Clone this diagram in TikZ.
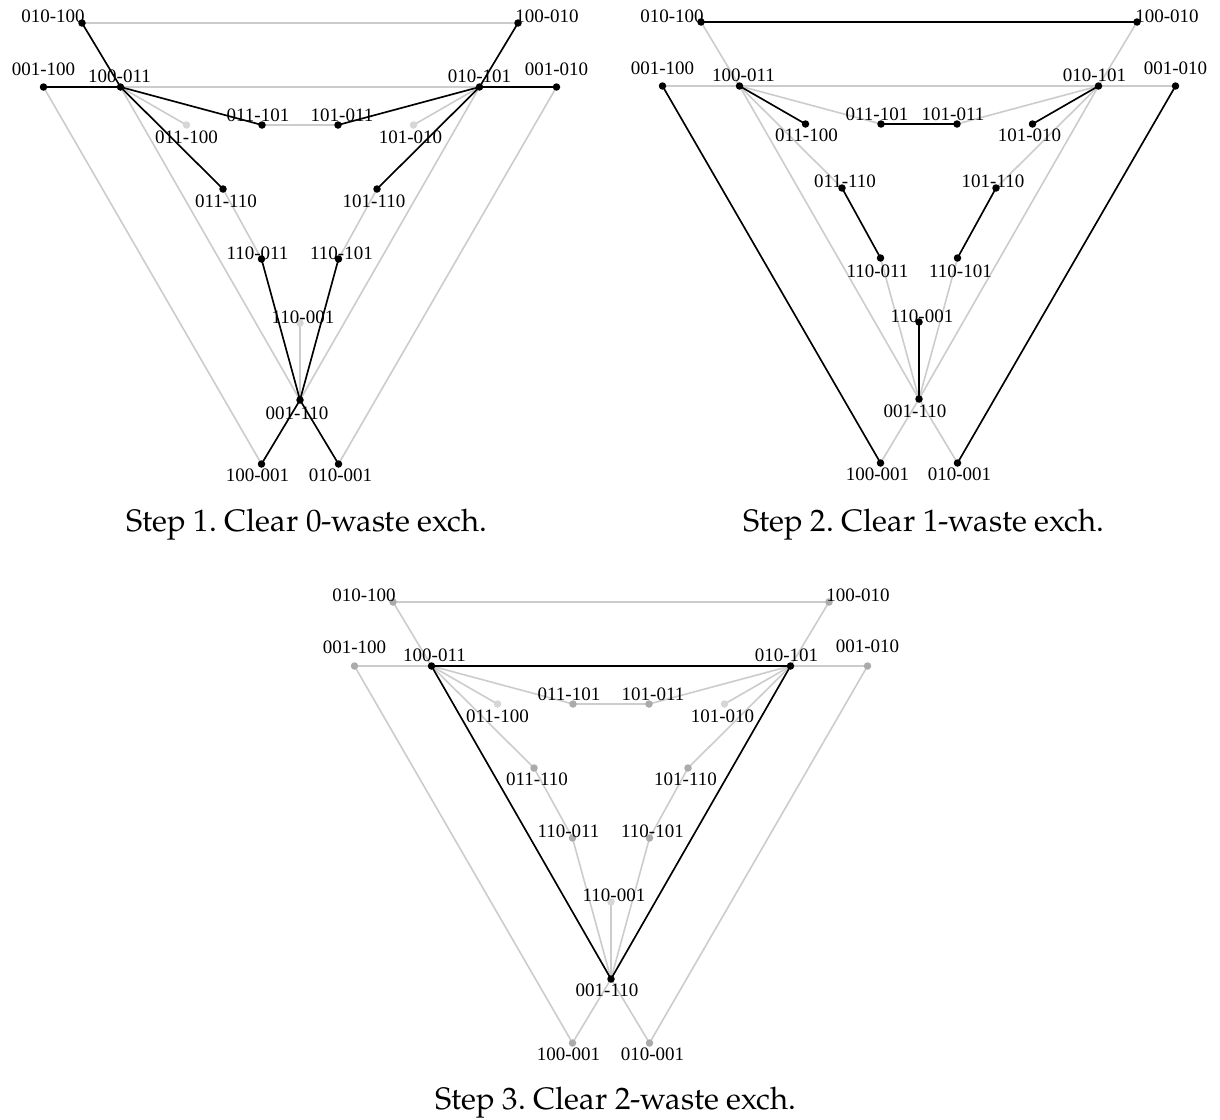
\documentclass[tikz,border=0pt]{standalone}
\usepackage{fontspec}
\setmainfont{Liberation Serif}
\newfontfamily\captionfont{TeX Gyre Pagella}
\usetikzlibrary{calc}

\definecolor{edgegray}{HTML}{CCCCCC}
\definecolor{dotgray}{HTML}{ABABAB}
\definecolor{dotlight}{HTML}{D6D6D6}

\tikzset{
  graylink/.style={draw=edgegray, line width=1.6pt},
  blacklink/.style={draw=black, line width=1.6pt},
  dotk/.style={circle, fill=black, inner sep=0pt, minimum size=7.5pt},
  dotg/.style={circle, fill=dotgray, inner sep=0pt, minimum size=7.5pt},
  dotl/.style={circle, fill=dotlight, inner sep=0pt, minimum size=7.5pt},
  lbl/.style={inner sep=0pt, anchor=center, font=\fontsize{19}{19}\selectfont},
  steptitle/.style={inner sep=0pt, anchor=base, font=\captionfont\fontsize{31}{31}\selectfont\frenchspacing},
}

% positions of the eighteen exchanges, relative to the centre line of a panel
\newcommand\placeexchanges[3]{%
  \foreach \n/\x/\y in {A/-218/23, B/218/23, C/-256.5/87, D/-179.5/87, E/179.5/87,
      F/256.5/87, G/-113.5/125, H/-38/125, I/38/125, J/113.5/125, K/-77/189,
      L/77/189, M/-38.5/259, N/38.5/259, O/0/323, Q/0/400, R/-38.5/464, S/38.5/464}
    \coordinate (#1\n) at ({#2+\x},{#3+\y});
}
% every link of the exchange graph, drawn light grey
\newcommand\grayedges[1]{%
  \foreach \u/\v in {A/B, A/D, B/E, C/D, E/F, D/E, C/R, F/S, R/Q, S/Q, D/H, D/G,
      D/K, D/Q, H/I, E/I, E/J, E/L, E/Q, K/M, L/N, M/Q, N/Q, O/Q}
    \draw[graylink] (#1\u) -- (#1\v);
}

\begin{document}
\begin{tikzpicture}[x=1pt, y=-1pt]
\useasboundingbox (0,0) rectangle (1220,1119);

% ---------------- Step 1 ----------------
\placeexchanges{P}{300}{0}
\grayedges{P}
\foreach \u/\v in {A/D, B/E, C/D, E/F, R/Q, S/Q, D/H, D/K, E/I, E/L, M/Q, N/Q}
  \draw[blacklink] (P\u) -- (P\v);
\foreach \n in {A,B,C,D,E,F,H,I,K,L,M,N,Q,R,S} \node[dotk] at (P\n) {};
\foreach \n in {G,J,O} \node[dotl] at (P\n) {};
\foreach \n/\dx/\dy/\txt in {A/-29/-7/010-100, B/29/-7/100-010, C/0/-18/001-100,
    D/-1/-11/100-011, E/0/-11/010-101, F/0/-18/001-010, G/0/12/011-100,
    H/-4/-10/011-101, I/4/-10/101-011, J/-3/12/101-010, K/3/12/011-110,
    L/-3/12/101-110, M/-4/-6/110-011, N/3/-6/110-101, O/3/-6/110-001,
    Q/-3/13/001-110, R/-4/11/100-001, S/2/11/010-001}
  \node[lbl] (P\n lab) at ($(P\n)+(\dx,\dy)$) {\txt};
\node[steptitle] (capP) at (307,531) {Step 1. Clear 0-waste exch.};

% ---------------- Step 2 ----------------
\placeexchanges{T}{919}{-1}
\grayedges{T}
\foreach \u/\v in {A/B, C/R, F/S, D/G, H/I, E/J, K/M, L/N, O/Q}
  \draw[blacklink] (T\u) -- (T\v);
\foreach \n in {A,B,C,D,E,F,G,H,I,J,K,L,M,N,O,Q,R,S} \node[dotk] at (T\n) {};
\foreach \n/\dx/\dy/\txt in {A/-29/-6/010-100, B/30/-6/100-010, C/0/-18/001-100,
    D/4/-11/100-011, E/-4/-11/010-101, F/0/-18/001-010, G/1/11/011-100,
    H/-4/-10/011-101, I/-4/-10/101-011, J/-3/11/101-010, K/3/-7/011-110,
    L/-3/-7/101-110, M/-3/13/110-011, N/3/13/110-101, O/3/-6/110-001,
    Q/-4/12/001-110, R/-3/11/100-001, S/2/11/010-001}
  \node[lbl] (T\n lab) at ($(T\n)+(\dx,\dy)$) {\txt};
\node[steptitle] (capT) at (924,531) {Step 2. Clear 1-waste exch.};

% ---------------- Step 3 ----------------
\placeexchanges{W}{611}{579}
\grayedges{W}
\foreach \u/\v in {D/E, D/Q, E/Q}
  \draw[blacklink] (W\u) -- (W\v);
\foreach \n in {A,B,C,F,H,I,K,L,M,N,R,S} \node[dotg] at (W\n) {};
\foreach \n in {G,J,O} \node[dotl] at (W\n) {};
\foreach \n in {D,E,Q} \node[dotk] at (W\n) {};
\foreach \n/\dx/\dy/\txt in {A/-29/-7/010-100, B/29/-7/100-010, C/0/-19/001-100,
    D/3/-11/100-011, E/-4/-11/010-101, F/0/-20/001-010, G/0/12/011-100,
    H/-4/-10/011-101, I/4/-10/101-011, J/-2/12/101-010, K/3/11/011-110,
    L/-2.5/11/101-110, M/-4/-7/110-011, N/3/-7/110-101, O/3/-7/110-001,
    Q/-4/11/001-110, R/-4/11/100-001, S/3/11/010-001}
  \node[lbl] (W\n lab) at ($(W\n)+(\dx,\dy)$) {\txt};
\node[steptitle] (capW) at (616,1109) {Step 3. Clear 2-waste exch.};

\end{tikzpicture}
\end{document}
